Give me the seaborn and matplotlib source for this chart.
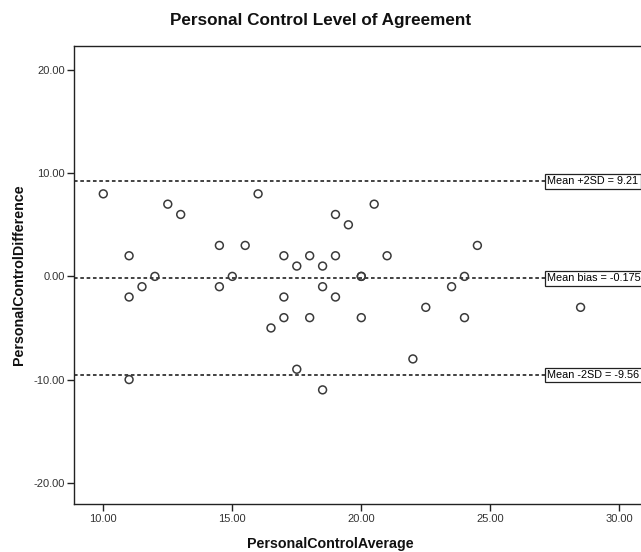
import matplotlib
matplotlib.use("Agg")
import matplotlib.pyplot as plt
import seaborn as sns
import pandas as pd

# Bland-Altman data: per-subject average and difference of the two ratings
average = [10, 11, 11, 11, 11.5, 12, 12.5, 13, 14.5, 14.5,
           15, 15.5, 16, 16.5, 17, 17, 17, 17.5, 17.5, 18,
           18, 18.5, 18.5, 18.5, 19, 19, 19, 19.5, 20, 20,
           20, 20.5, 21, 22, 22.5, 23.5, 24, 24, 24.5, 28.5]
difference = [8, 2, -2, -10, -1, 0, 7, 6, 3, -1,
              0, 3, 8, -5, 2, -2, -4, 1, -9, 2,
              -4, 1, -1, -11, 6, 2, -2, 5, 0, 0,
              -4, 7, 2, -8, -3, -1, 0, -4, 3, -3]

# Reference lines and their labels
ref_values = [9.21, -0.175, -9.56]
ref_labels = ["Mean +2SD = 9.21", "Mean bias = -0.175", "Mean -2SD = -9.56"]

x_ticks = [10, 15, 20, 25, 30]
y_ticks = [-20, -10, 0, 10, 20]

df = pd.DataFrame({"PersonalControlAverage": average,
                   "PersonalControlDifference": difference})

sns.set_theme(style="white")
plt.rcParams["font.family"] = ["Liberation Sans", "DejaVu Sans"]

fig = plt.figure(figsize=(6.41, 5.52), dpi=100)
ax = fig.add_axes([0.1159, 0.0864, 0.8953, 0.8303])

line_color = "#333333"
for v in ref_values:
    ax.axhline(v, color=line_color, linewidth=1.3, linestyle=(0, (2.0, 1.5)), zorder=1)

sns.scatterplot(data=df, x="PersonalControlAverage", y="PersonalControlDifference",
                ax=ax, marker="o", s=32, facecolor="none", edgecolor="#3a3a3a",
                linewidth=1.1, zorder=3)

for v, lab in zip(ref_values, ref_labels):
    ax.text(27.2, v, lab, fontsize=7.8, color="black", va="center", ha="left",
            clip_on=False, zorder=4,
            bbox=dict(boxstyle="square,pad=0.22", facecolor="white",
                      edgecolor="#222222", linewidth=0.9))

ax.set_xlim(8.876, 31.12)
ax.set_ylim(-22.09, 22.33)
ax.set_xticks(x_ticks)
ax.set_yticks(y_ticks)
ax.set_xticklabels([f"{t:.2f}" for t in x_ticks])
ax.set_yticklabels([f"{t:.2f}" for t in y_ticks])
ax.tick_params(axis="both", direction="out", length=5, width=1, color="#222222",
               labelsize=8, labelcolor="#333333", pad=2, left=True, bottom=True)

for side in ["left", "bottom", "top", "right"]:
    ax.spines[side].set_color("#222222")
    ax.spines[side].set_linewidth(1.0)

ax.set_xlabel("PersonalControlAverage", fontsize=10.3, fontweight="bold",
              color="#111111")
ax.xaxis.set_label_coords(0.4455, -0.072)
ax.set_ylabel("PersonalControlDifference", fontsize=10.3, fontweight="bold",
              color="#111111", labelpad=5)

fig.text(0.5, 0.963, "Personal Control Level of Agreement", ha="center", va="center",
         fontsize=12.3, fontweight="bold", color="#111111")

fig.savefig("out.png", dpi=100, facecolor="white")
